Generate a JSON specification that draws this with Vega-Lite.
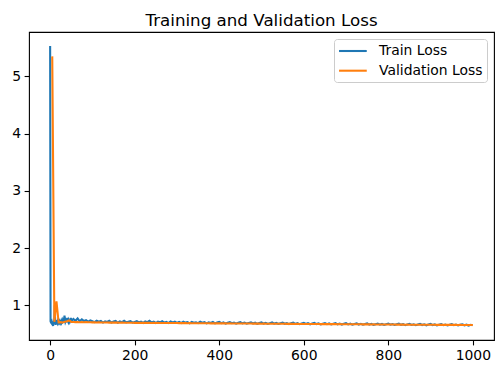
{
"$schema":"https://vega.github.io/schema/vega-lite/v6.json",
"width":465,"height":308,
"autosize":{"type":"none"},
"padding":{"left":29,"top":32,"right":9,"bottom":34},
"background":"white",
"title":{"text":"Training and Validation Loss","font":"DejaVu Sans","fontSize":16.7,"fontWeight":"normal","color":"black","anchor":"middle","frame":"group","baseline":"bottom","offset":-15},
"config":{
"view":{"stroke":"black","strokeWidth":1.1},
"axis":{"domain":false,"grid":false,"ticks":true,"tickColor":"black","tickSize":4.9,"tickWidth":1.1,"labelFont":"DejaVu Sans","labelFontSize":13.9,"labelColor":"black","labelPadding":3.5,"title":null,"format":"d"},
"legend":{"orient":"top-right","offset":7,"padding":4,"fillColor":"white","strokeColor":"#cccccc","cornerRadius":3,"symbolType":"M-2,0H2","symbolSize":192,"symbolOffset":6.9,"symbolStrokeWidth":2.08,"labelFont":"DejaVu Sans","labelFontSize":13.9,"labelColor":"black","labelOffset":18.1,"rowPadding":4.7,"title":null}
},
"data":{"values":[
{"e":0,"t":5.53},{"e":1,"t":0.72},{"e":2,"t":0.70},{"e":3,"t":0.69},{"e":4,"t":0.71},{"e":5,"t":0.68,"v":5.35},{"e":6,"t":0.66},{"e":7,"t":0.64},{"e":8,"t":0.70},{"e":9,"t":0.72},{"e":10,"t":0.74,"v":0.71},{"e":11,"t":1.0},{"e":12,"t":0.70},{"e":13,"t":0.66},{"e":14,"t":0.69},{"e":15,"t":0.71,"v":1.07},{"e":16,"t":0.70},{"e":17,"t":0.72},{"e":18,"t":0.69},{"e":19,"t":0.71},{"e":20,"t":0.73,"v":0.70},{"e":21,"t":0.70},{"e":22,"t":0.72},{"e":23,"t":0.70},{"e":24,"t":0.74},{"e":25,"t":0.71,"v":0.705},{"e":26,"t":0.73},{"e":27,"t":0.70},{"e":28,"t":0.72},{"e":29,"t":0.71},{"e":30,"t":0.74,"v":0.70},{"e":31,"t":0.72},{"e":32,"t":0.70},{"e":33,"t":0.76},{"e":34,"t":0.82},{"e":35,"t":0.75,"v":0.71},{"e":36,"t":0.71},{"e":37,"t":0.73},{"e":38,"t":0.70},{"e":39,"t":0.77},{"e":40,"t":0.72,"v":0.72},{"e":41,"t":0.78},{"e":42,"t":0.73},{"e":43,"t":0.71},{"e":44,"t":0.74},{"e":45,"t":0.72,"v":0.735},{"e":46,"t":0.76},{"e":47,"t":0.71},{"e":48,"t":0.73},{"e":49,"t":0.78},{"e":50,"t":0.72,"v":0.71},
{"e":55,"t":0.76,"v":0.708},{"e":60,"t":0.73,"v":0.705},{"e":65,"t":0.77,"v":0.707},{"e":70,"t":0.72,"v":0.704},{"e":75,"t":0.755,"v":0.706},{"e":80,"t":0.725,"v":0.703},{"e":85,"t":0.74,"v":0.705},{"e":90,"t":0.715,"v":0.702},{"e":95,"t":0.735,"v":0.703},{"e":100,"t":0.72,"v":0.701},
{"e":105,"t":0.705,"v":0.702},{"e":110,"t":0.73,"v":0.700},{"e":115,"t":0.712,"v":0.701},{"e":120,"t":0.725,"v":0.699},{"e":125,"t":0.698,"v":0.700},{"e":130,"t":0.72,"v":0.698},{"e":135,"t":0.708,"v":0.699},{"e":140,"t":0.73,"v":0.697},{"e":145,"t":0.70,"v":0.698},{"e":150,"t":0.715,"v":0.697},
{"e":155,"t":0.725,"v":0.696},{"e":160,"t":0.695,"v":0.697},{"e":165,"t":0.718,"v":0.695},{"e":170,"t":0.705,"v":0.696},{"e":175,"t":0.728,"v":0.695},{"e":180,"t":0.70,"v":0.694},{"e":185,"t":0.712,"v":0.695},{"e":190,"t":0.722,"v":0.694},{"e":195,"t":0.696,"v":0.695},{"e":200,"t":0.71,"v":0.693},
{"e":205,"t":0.724,"v":0.694},{"e":210,"t":0.70,"v":0.693},{"e":215,"t":0.715,"v":0.694},{"e":220,"t":0.692,"v":0.692},{"e":225,"t":0.718,"v":0.693},{"e":230,"t":0.705,"v":0.692},{"e":235,"t":0.73,"v":0.693},{"e":240,"t":0.698,"v":0.691},{"e":245,"t":0.712,"v":0.692},{"e":250,"t":0.69,"v":0.691},
{"e":255,"t":0.715,"v":0.692},{"e":260,"t":0.702,"v":0.690},{"e":265,"t":0.72,"v":0.691},{"e":270,"t":0.695,"v":0.690},{"e":275,"t":0.71,"v":0.691},{"e":280,"t":0.688,"v":0.689},{"e":285,"t":0.716,"v":0.690},{"e":290,"t":0.70,"v":0.689},{"e":295,"t":0.712,"v":0.690},{"e":300,"t":0.692,"v":0.689},
{"e":305,"t":0.708,"v":0.688},{"e":310,"t":0.69,"v":0.689},{"e":315,"t":0.714,"v":0.688},{"e":320,"t":0.697,"v":0.688},{"e":325,"t":0.706,"v":0.687},{"e":330,"t":0.685,"v":0.688},{"e":335,"t":0.71,"v":0.687},{"e":340,"t":0.694,"v":0.686},{"e":345,"t":0.703,"v":0.687},{"e":350,"t":0.688,"v":0.686},
{"e":355,"t":0.712,"v":0.686},{"e":360,"t":0.696,"v":0.685},{"e":365,"t":0.705,"v":0.686},{"e":370,"t":0.684,"v":0.685},{"e":375,"t":0.70,"v":0.685},{"e":380,"t":0.69,"v":0.684},{"e":385,"t":0.708,"v":0.685},{"e":390,"t":0.683,"v":0.684},{"e":395,"t":0.699,"v":0.684},{"e":400,"t":0.71,"v":0.683},
{"e":405,"t":0.687,"v":0.684},{"e":410,"t":0.70,"v":0.683},{"e":415,"t":0.68,"v":0.683},{"e":420,"t":0.695,"v":0.682},{"e":425,"t":0.706,"v":0.683},{"e":430,"t":0.686,"v":0.682},{"e":435,"t":0.698,"v":0.682},{"e":440,"t":0.679,"v":0.681},{"e":445,"t":0.693,"v":0.682},{"e":450,"t":0.704,"v":0.681},
{"e":455,"t":0.684,"v":0.681},{"e":460,"t":0.697,"v":0.680},{"e":465,"t":0.68,"v":0.681},{"e":470,"t":0.692,"v":0.680},{"e":475,"t":0.703,"v":0.680},{"e":480,"t":0.682,"v":0.679},{"e":485,"t":0.695,"v":0.680},{"e":490,"t":0.676,"v":0.679},{"e":495,"t":0.69,"v":0.679},{"e":500,"t":0.70,"v":0.678},
{"e":505,"t":0.68,"v":0.679},{"e":510,"t":0.693,"v":0.678},{"e":515,"t":0.674,"v":0.678},{"e":520,"t":0.688,"v":0.677},{"e":525,"t":0.699,"v":0.678},{"e":530,"t":0.678,"v":0.677},{"e":535,"t":0.691,"v":0.677},{"e":540,"t":0.673,"v":0.676},{"e":545,"t":0.686,"v":0.677},{"e":550,"t":0.697,"v":0.676},
{"e":555,"t":0.677,"v":0.676},{"e":560,"t":0.689,"v":0.675},{"e":565,"t":0.671,"v":0.676},{"e":570,"t":0.685,"v":0.675},{"e":575,"t":0.696,"v":0.675},{"e":580,"t":0.675,"v":0.674},{"e":585,"t":0.688,"v":0.675},{"e":590,"t":0.67,"v":0.674},{"e":595,"t":0.683,"v":0.674},{"e":600,"t":0.694,"v":0.673},
{"e":605,"t":0.673,"v":0.674},{"e":610,"t":0.686,"v":0.673},{"e":615,"t":0.668,"v":0.673},{"e":620,"t":0.681,"v":0.672},{"e":625,"t":0.692,"v":0.673},{"e":630,"t":0.671,"v":0.672},{"e":635,"t":0.684,"v":0.672},{"e":640,"t":0.667,"v":0.671},{"e":645,"t":0.679,"v":0.672},{"e":650,"t":0.69,"v":0.671},
{"e":655,"t":0.669,"v":0.671},{"e":660,"t":0.682,"v":0.670},{"e":665,"t":0.665,"v":0.671},{"e":670,"t":0.677,"v":0.670},{"e":675,"t":0.688,"v":0.670},{"e":680,"t":0.667,"v":0.669},{"e":685,"t":0.68,"v":0.670},{"e":690,"t":0.663,"v":0.669},{"e":695,"t":0.675,"v":0.669},{"e":700,"t":0.686,"v":0.668},
{"e":705,"t":0.666,"v":0.669},{"e":710,"t":0.678,"v":0.668},{"e":715,"t":0.661,"v":0.668},{"e":720,"t":0.674,"v":0.667},{"e":725,"t":0.685,"v":0.668},{"e":730,"t":0.664,"v":0.667},{"e":735,"t":0.677,"v":0.667},{"e":740,"t":0.66,"v":0.666},{"e":745,"t":0.672,"v":0.667},{"e":750,"t":0.683,"v":0.666},
{"e":755,"t":0.663,"v":0.666},{"e":760,"t":0.675,"v":0.665},{"e":765,"t":0.658,"v":0.666},{"e":770,"t":0.67,"v":0.665},{"e":775,"t":0.681,"v":0.665},{"e":780,"t":0.661,"v":0.664},{"e":785,"t":0.673,"v":0.665},{"e":790,"t":0.657,"v":0.664},{"e":795,"t":0.669,"v":0.664},{"e":800,"t":0.68,"v":0.663},
{"e":805,"t":0.66,"v":0.664},{"e":810,"t":0.671,"v":0.663},{"e":815,"t":0.655,"v":0.663},{"e":820,"t":0.667,"v":0.662},{"e":825,"t":0.678,"v":0.663},{"e":830,"t":0.658,"v":0.662},{"e":835,"t":0.67,"v":0.662},{"e":840,"t":0.653,"v":0.661},{"e":845,"t":0.666,"v":0.662},{"e":850,"t":0.676,"v":0.661},
{"e":855,"t":0.657,"v":0.661},{"e":860,"t":0.668,"v":0.661},{"e":865,"t":0.652,"v":0.660},{"e":870,"t":0.664,"v":0.661},{"e":875,"t":0.674,"v":0.660},{"e":880,"t":0.655,"v":0.660},{"e":885,"t":0.667,"v":0.660},{"e":890,"t":0.65,"v":0.659},{"e":895,"t":0.662,"v":0.660},{"e":900,"t":0.673,"v":0.659},
{"e":905,"t":0.654,"v":0.659},{"e":910,"t":0.665,"v":0.659},{"e":915,"t":0.649,"v":0.658},{"e":920,"t":0.661,"v":0.659},{"e":925,"t":0.671,"v":0.658},{"e":930,"t":0.652,"v":0.658},{"e":935,"t":0.664,"v":0.658},{"e":940,"t":0.648,"v":0.657},{"e":945,"t":0.66,"v":0.658},{"e":950,"t":0.67,"v":0.657},
{"e":955,"t":0.651,"v":0.657},{"e":960,"t":0.663,"v":0.657},{"e":965,"t":0.647,"v":0.656},{"e":970,"t":0.659,"v":0.657},{"e":975,"t":0.668,"v":0.656},{"e":980,"t":0.65,"v":0.656},{"e":985,"t":0.661,"v":0.656},{"e":990,"t":0.646,"v":0.655},{"e":995,"t":0.658,"v":0.656},{"e":999,"t":0.652},{"e":1000,"v":0.655}
]},
"layer":[
{"transform":[{"filter":"isValid(datum.t)"}],
"mark":{"type":"line","strokeWidth":2.08,"invalid":"filter"},
"encoding":{
"x":{"field":"e","type":"quantitative","scale":{"domain":[-50,1050],"nice":false,"zero":false},"axis":{"values":[0,200,400,600,800,1000]}},
"y":{"field":"t","type":"quantitative","scale":{"domain":[0.393,5.776],"nice":false,"zero":false},"axis":{"values":[1,2,3,4,5]}},
"color":{"datum":"Train Loss","type":"nominal","scale":{"domain":["Train Loss","Validation Loss"],"range":["#1f77b4","#ff7f0e"]}}}},
{"transform":[{"filter":"isValid(datum.v)"}],
"mark":{"type":"line","strokeWidth":2.08,"invalid":"filter"},
"encoding":{
"x":{"field":"e","type":"quantitative"},
"y":{"field":"v","type":"quantitative"},
"color":{"datum":"Validation Loss","type":"nominal"}}}
]
}
